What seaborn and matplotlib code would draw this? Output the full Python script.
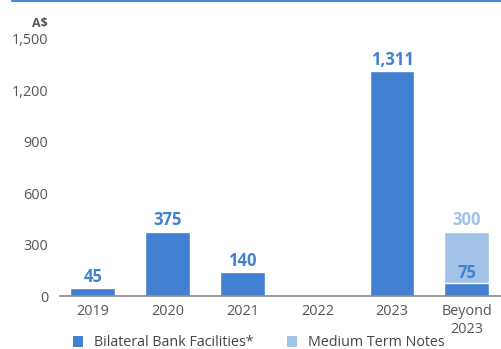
import matplotlib
matplotlib.use("Agg")
import matplotlib.pyplot as plt
from matplotlib.lines import Line2D
from matplotlib.patches import Patch
import seaborn as sns
import pandas as pd

# Debt maturity profile (A$ millions)
years = ["2019", "2020", "2021", "2022", "2023", "Beyond\n2023"]
bilateral = [45, 375, 140, 0, 1311, 75]
mtn = [0, 0, 0, 0, 0, 300]
yticks = [0, 300, 600, 900, 1200, 1500]

DARK = "#4281D1"
LIGHT = "#A3C2E8"
GREY = "#555555"

sns.set_theme(style="white")
plt.rcParams["font.family"] = ["Open Sans", "DejaVu Sans"]

df = pd.DataFrame({"year": years, "bilateral": bilateral, "mtn": mtn})
df["total"] = df["bilateral"] + df["mtn"]

fig = plt.figure(figsize=(5.02, 3.49), dpi=100)
ax = fig.add_axes([60 / 502, 53 / 349, 442 / 502, 257 / 349])

# light total first, dark bilateral portion drawn over it
sns.barplot(data=df, x="year", y="total", color=LIGHT, width=0.6,
            saturation=1, ax=ax)
sns.barplot(data=df, x="year", y="bilateral", color=DARK, width=0.6,
            saturation=1, ax=ax)

ax.set_xlim(-0.44, 5.47)
ax.set_ylim(0, 1500)
ax.set_yticks(yticks)
ax.set_yticklabels([f"{v:,}" for v in yticks])
ax.set_xlabel("")
ax.set_ylabel("")
ax.tick_params(axis="both", length=0, labelsize=10.4, labelcolor=GREY)
ax.tick_params(axis="y", pad=8.5)
ax.tick_params(axis="x", pad=6)
for s in ["top", "right", "left"]:
    ax.spines[s].set_visible(False)
ax.spines["bottom"].set_color("#8a8a8a")
ax.spines["bottom"].set_linewidth(1.2)

# value labels
for i, (b, m) in enumerate(zip(bilateral, mtn)):
    if m > 0:
        ax.text(i, b + 6, f"{b:,}", ha="center", va="bottom", color=DARK,
                fontsize=12, fontweight="bold")
        ax.text(i, b + m + 14, f"{m:,}", ha="center", va="bottom", color=LIGHT,
                fontsize=12, fontweight="bold")
    elif b > 0:
        ax.text(i, b + 14, f"{b:,}", ha="center", va="bottom", color=DARK,
                fontsize=12, fontweight="bold")

ax.text(-0.027, 1.062, "A$", transform=ax.transAxes, ha="right", va="center",
        fontsize=9, fontweight="bold", color=GREY)

handles = [Patch(facecolor=DARK, edgecolor="none", label="Bilateral Bank Facilities*"),
           Patch(facecolor=LIGHT, edgecolor="none", label="Medium Term Notes")]
leg = fig.legend(handles=handles, loc="center left", bbox_to_anchor=(60 / 502, 6 / 349),
                 ncol=2, frameon=False, fontsize=10.3, handlelength=0.7,
                 handleheight=0.7, handletextpad=0.8, columnspacing=2.3)
for t in leg.get_texts():
    t.set_color("#444444")

fig.add_artist(Line2D([12 / 502, 1], [1 - 1 / 349, 1 - 1 / 349],
                      color="#4A86D4", lw=1.5, transform=fig.transFigure))

fig.savefig("out.png", dpi=100)
